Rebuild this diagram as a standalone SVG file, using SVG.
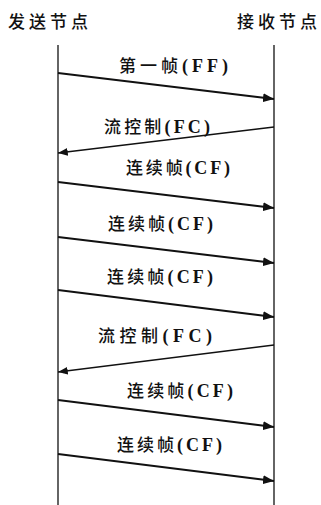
<svg xmlns="http://www.w3.org/2000/svg" width="321" height="505" viewBox="0 0 321 505">
<style>
.t{font-family:"Liberation Serif","Noto Sans CJK SC",serif;font-size:17px;font-weight:500;fill:#111}
.t .a{font-size:18px;font-weight:bold}
.h{font-family:"Noto Sans CJK SC",sans-serif;font-size:17px;font-weight:500;fill:#111}
.life{stroke:#111;stroke-width:1.3;fill:none}
.m{stroke:#111;stroke-width:2.2;fill:none;marker-end:url(#ah)}
.fc{stroke:#111;stroke-width:1.3;fill:none;marker-end:url(#ah2)}
</style>
<defs>
<marker id="ah" viewBox="0 0 10 8" refX="10" refY="4" markerWidth="5" markerHeight="4" orient="auto" markerUnits="strokeWidth"><path d="M0,0 L10,4 L0,8 Z" fill="#111"/></marker>
<marker id="ah2" viewBox="0 0 10 8" refX="10" refY="4" markerWidth="7.5" markerHeight="6" orient="auto" markerUnits="strokeWidth"><path d="M0,0 L10,4 L0,8 Z" fill="#111"/></marker>
</defs>
<rect width="321" height="505" fill="#fff"/>
<g id="sender"><text class="h" x="8" y="28" textLength="80" lengthAdjust="spacing">发送节点</text><line class="life" x1="58" y1="45" x2="58" y2="505"/></g>
<g id="receiver"><text class="h" x="237" y="28" textLength="80" lengthAdjust="spacing">接收节点</text><line class="life" x1="274" y1="45" x2="274" y2="505"/></g>
<g id="connectors">
<line class="m" x1="58" y1="73" x2="274" y2="99"/>
<line class="fc" x1="274" y1="127" x2="58" y2="153"/>
<line class="m" x1="58" y1="182" x2="274" y2="208"/>
<line class="m" x1="58" y1="237" x2="274" y2="263"/>
<line class="m" x1="58" y1="290" x2="274" y2="317"/>
<line class="fc" x1="274" y1="345" x2="58" y2="372"/>
<line class="m" x1="58" y1="400" x2="274" y2="427"/>
<line class="m" x1="58" y1="454" x2="274" y2="481"/>
</g>
<g id="labels">
<text class="t" x="119" y="72" textLength="109" lengthAdjust="spacing">第一帧<tspan class="a">(FF)</tspan></text>
<text class="t" x="104" y="133" textLength="106" lengthAdjust="spacing">流控制<tspan class="a">(FC)</tspan></text>
<text class="t" x="126" y="174" textLength="104" lengthAdjust="spacing">连续帧<tspan class="a">(CF)</tspan></text>
<text class="t" x="108" y="230" textLength="105" lengthAdjust="spacing">连续帧<tspan class="a">(CF)</tspan></text>
<text class="t" x="107" y="283" textLength="106" lengthAdjust="spacing">连续帧<tspan class="a">(CF)</tspan></text>
<text class="t" x="98" y="342" textLength="114" lengthAdjust="spacing">流控制<tspan class="a">(FC)</tspan></text>
<text class="t" x="127" y="397" textLength="106" lengthAdjust="spacing">连续帧<tspan class="a">(CF)</tspan></text>
<text class="t" x="117" y="451" textLength="105" lengthAdjust="spacing">连续帧<tspan class="a">(CF)</tspan></text>
</g>
</svg>
